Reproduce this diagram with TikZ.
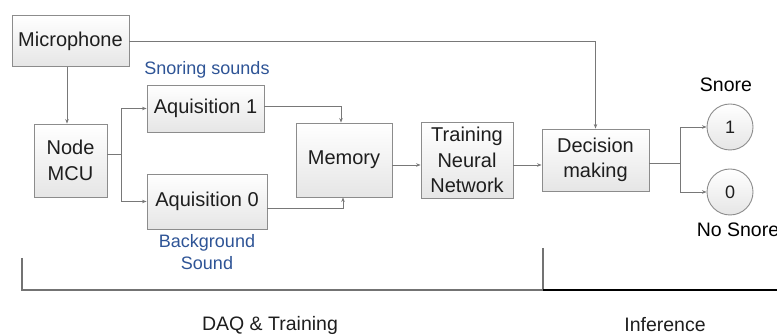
\documentclass[tikz,border=0pt]{standalone}
\usepackage{fontspec}
\setmainfont{Liberation Sans}
\usetikzlibrary{arrows.meta,shadows}

\definecolor{boxline}{RGB}{140,140,140}
\definecolor{wire}{RGB}{120,120,120}
\definecolor{labelblue}{RGB}{46,84,150}
\definecolor{boxtext}{RGB}{30,30,30}

\tikzset{
  block/.style={draw=boxline, line width=0.9pt, top color=white, bottom color=black!10,
    text=boxtext, align=center, inner sep=0pt,
    font=\fontsize{20}{25.5}\selectfont,
    drop shadow={shadow xshift=1pt, shadow yshift=-1pt, opacity=0.25, fill=black}},
  outcome/.style={circle, draw=boxline, line width=0.9pt, top color=white, bottom color=black!10,
    text=boxtext, minimum size=46pt, inner sep=0pt, font=\fontsize{18}{22}\selectfont},
  wirearrow/.style={draw=wire, line width=0.9pt, -{Stealth[length=4.5pt,width=3.5pt]}},
  wireline/.style={draw=wire, line width=0.9pt},
  bluelabel/.style={text=labelblue, align=center, font=\fontsize{18}{21.5}\selectfont},
  plainlabel/.style={text=black, align=center, font=\fontsize{19.5}{24}\selectfont},
  phaselabel/.style={text=boxtext, font=\fontsize{19.5}{24}\selectfont}
}

\begin{document}
\begin{tikzpicture}[x=1pt, y=-1pt]
\useasboundingbox (0,0) rectangle (777,336);

% processing blocks
\node[block, minimum width=117pt, minimum height=51pt] (mic) at (70.5,41) {Microphone};
\node[block, minimum width=73pt, minimum height=73pt] (mcu) at (70.5,160.5) {Node\\MCU};
\node[block, minimum width=117pt, minimum height=47pt] (aq1) at (205.5,108.5) {Aquisition 1};
\node[block, minimum width=120pt, minimum height=55pt] (aq0) at (207,201.5) {Aquisition 0};
\node[block, minimum width=96pt, minimum height=74pt] (mem) at (344,160) {Memory};
\node[block, minimum width=92pt, minimum height=76pt] (tnn) at (467,160) {Training\\Neural\\Network};
\node[block, minimum width=107pt, minimum height=62pt] (dec) at (595.5,160) {Decision\\making};

% outcomes
\node[outcome] (one) at (730,127) {1};
\node[outcome] (zero) at (730,192) {0};

% labels
\node[bluelabel] (snoring) at (207,70) {Snoring sounds};
\node[bluelabel] (background) at (207,252) {Background\\Sound};
\node[plainlabel] (snore) at (726,85) {Snore};
\node[plainlabel] (nosnore) at (738,230) {No Snore};

% connectors
\coordinate (split) at (121,154);
\coordinate (fork) at (680,163);
\draw[wirearrow] (mic.south -| 67,0) -- (mcu.north -| 67,0);
\draw[wireline] (mcu.east |- split) -- (split);
\draw[wirearrow] (split) |- (aq1.west);
\draw[wirearrow] (split) |- (aq0.west);
\draw[wirearrow] (aq1.east |- 0,106) -| (mem.north -| 341,0);
\draw[wirearrow] (aq0.east |- 0,208) -| (mem.south -| 343,0);
\draw[wirearrow] (mem.east |- 0,165) -- (tnn.west |- 0,165);
\draw[wirearrow] (tnn.east |- 0,165) -- (dec.west |- 0,165);
\draw[wirearrow] (mic.east) -| (dec.north);
\draw[wireline] (dec.east |- fork) -- (fork);
\draw[wirearrow] (fork) |- (one.west);
\draw[wirearrow] (fork) |- (zero.west);

% phase brackets
\coordinate (lt) at (22,258);
\coordinate (lb) at (22,290);
\coordinate (mt) at (543,248);
\coordinate (mb) at (543,290);
\coordinate (rb) at (777,290);
\draw[draw=black!55, line width=1.3pt] (lt) -- (lb) -- (mb);
\draw[draw=black!55, line width=1.1pt] (mt) -- (mb);
\draw[draw=black, line width=1.1pt] (mb) -- (rb);

\node[phaselabel] (daq) at (270,325) {DAQ \& Training};
\node[phaselabel] (inf) at (665,325) {Inference};
\end{tikzpicture}
\end{document}
